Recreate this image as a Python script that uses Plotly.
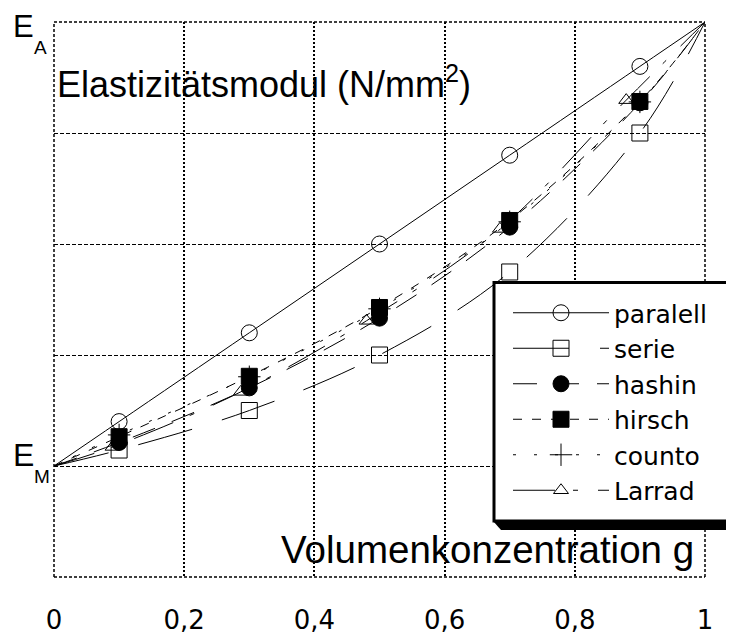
import plotly.graph_objects as go

# ---------------- data ----------------
g_marks = [0.1, 0.3, 0.5, 0.7, 0.9]
g_ends = [0.0, 1.0]
E_ends = [0.0, 1.0]

paralell = [0.100, 0.300, 0.500, 0.700, 0.900]
serie = [0.036, 0.125, 0.250, 0.437, 0.750]
hashin = [0.053, 0.176, 0.333, 0.538, 0.818]
hirsch = [0.066, 0.202, 0.357, 0.553, 0.821]
counto = [0.070, 0.201, 0.354, 0.550, 0.820]
larrad_g = [0.090, 0.287, 0.480, 0.685, 0.879]
larrad = [0.043, 0.167, 0.327, 0.534, 0.824]

x_ticks = [0, 0.2, 0.4, 0.6, 0.8, 1]
x_ticktext = ["0", "0,2", "0,4", "0,6", "0,8", "1"]
y_ticks = [-0.25, 0, 0.25, 0.5, 0.75, 1]

# ---------------- layout helpers ----------------
OFF = 8                        # page body margin of the html page
W, H = 734 - OFF, 635 - OFF    # figure fits in the window
L, R, T, B = 54, 705, 22, 577  # plot area in page pixels


def px(x):
    return (x - L) / (R - L)


def py(y):
    return (B - y) / (B - T)


series = [
    # name, g, E, dash, symbol, size
    ("paralell", g_marks, paralell, "solid", "circle-open", 16),
    ("serie", g_marks, serie, "56px,31px", "square-open", 16),
    ("hashin", g_marks, hashin, "24px,18px", "circle", 16),
    ("hirsch", g_marks, hirsch, "9px,10px", "square", 16),
    ("counto", g_marks, counto, "3px,18px", "cross-thin", 16),
    ("Larrad", larrad_g, larrad, "42px,18px,5px,20px", "triangle-up-open", 13),
]

fig = go.Figure()

# curves
for name, gx, ey, dash, sym, size in series:
    fig.add_trace(go.Scatter(
        x=[g_ends[0]] + gx + [g_ends[1]],
        y=[E_ends[0]] + ey + [E_ends[1]],
        mode="lines", line=dict(color="black", width=1, dash=dash, shape="spline", smoothing=1.0),
        showlegend=False, hoverinfo="skip"))

# markers
marker_order = ["paralell", "serie", "Larrad", "counto", "hashin", "hirsch"]
lookup = {s[0]: s for s in series}
for nm in marker_order:
    name, gx, ey, dash, sym, size = lookup[nm]
    fig.add_trace(go.Scatter(
        x=gx, y=ey, mode="markers",
        marker=dict(symbol=sym, size=size, color="black", line=dict(color="black", width=1)),
        showlegend=False, hoverinfo="skip"))

# legend entries
for name, gx, ey, dash, sym, size in series:
    fig.add_trace(go.Scatter(
        x=[None], y=[None], mode="lines+markers", name=name,
        line=dict(color="black", width=1, dash=dash),
        marker=dict(symbol=sym, size=size, color="black", line=dict(color="black", width=1))))

big = dict(family="Liberation Sans, Arial, sans-serif", color="black")

annotations = [
    dict(text="E", x=px(23), y=py(26), font=dict(size=31, **big)),
    dict(text="A", x=px(40), y=py(47.5), font=dict(size=19, **big)),
    dict(text="E", x=px(23), y=py(454.5), font=dict(size=32, **big)),
    dict(text="M", x=px(41.5), y=py(476.5), font=dict(size=19, **big)),
    dict(text="Elastizitätsmodul (N/mm<sup>2</sup>)", x=px(55), y=py(107.5),
         xanchor="left", yanchor="bottom", font=dict(size=36, **big)),
    dict(text="Volumenkonzentration g", x=px(279), y=py(573),
         xanchor="left", yanchor="bottom", font=dict(size=38.5, **big)),
]
for a in annotations:
    a.setdefault("xanchor", "center")
    a.setdefault("yanchor", "middle")
    a.update(xref="paper", yref="paper", showarrow=False)

frame = dict(color="black", width=1.5, dash="3px,2px")
shapes = [
    dict(type="line", xref="paper", yref="paper", layer="below", x0=0, x1=1, y0=0, y1=0, line=frame),
    dict(type="line", xref="paper", yref="paper", layer="below", x0=0, x1=1, y0=1, y1=1, line=frame),
    dict(type="line", xref="paper", yref="paper", layer="below", x0=0, x1=0, y0=0, y1=1, line=frame),
    dict(type="line", xref="paper", yref="paper", layer="below", x0=1, x1=1, y0=0, y1=1, line=frame),
    dict(type="path", xref="paper", yref="paper", layer="above",
         path=f"M{px(493)},{py(521)} L{px(501)},{py(530)} L{px(770)},{py(530)} L{px(770)},{py(521)} Z",
         fillcolor="black", line=dict(width=0)),
    dict(type="rect", xref="paper", yref="paper", layer="above",
         x0=px(494), x1=px(770), y0=py(521), y1=py(282.5),
         fillcolor="white", line=dict(color="black", width=3)),
]

fig.update_layout(
    width=W, height=H, autosize=False,
    margin=dict(l=L - OFF, r=W - (R - OFF), t=T - OFF, b=H - (B - OFF), pad=0, autoexpand=False),
    paper_bgcolor="white", plot_bgcolor="white",
    separators=",.",
    annotations=annotations, shapes=shapes,
    showlegend=True,
    legend=dict(x=px(508), y=py(290), xanchor="left", yanchor="top",
                bgcolor="rgba(0,0,0,0)", borderwidth=0, itemwidth=96,
                font=dict(family="DejaVu Sans", size=25, color="black"),
                traceorder="normal", itemclick=False, itemdoubleclick=False),
    xaxis=dict(range=[0, 1], tickvals=x_ticks, ticktext=x_ticktext,
               showgrid=True, gridcolor="black", gridwidth=2, griddash="2px,2px",
               zeroline=False, showline=False, ticks="", automargin=False,
               tickfont=dict(family="DejaVu Sans", size=26, color="black"),
               ticklabelstandoff=25),
    yaxis=dict(range=[-0.25, 1], tickvals=y_ticks, showticklabels=False,
               showgrid=True, gridcolor="black", gridwidth=1, griddash="4px,2px",
               zeroline=False, showline=False, ticks="", automargin=False),
)

fig.write_html("out.html")
